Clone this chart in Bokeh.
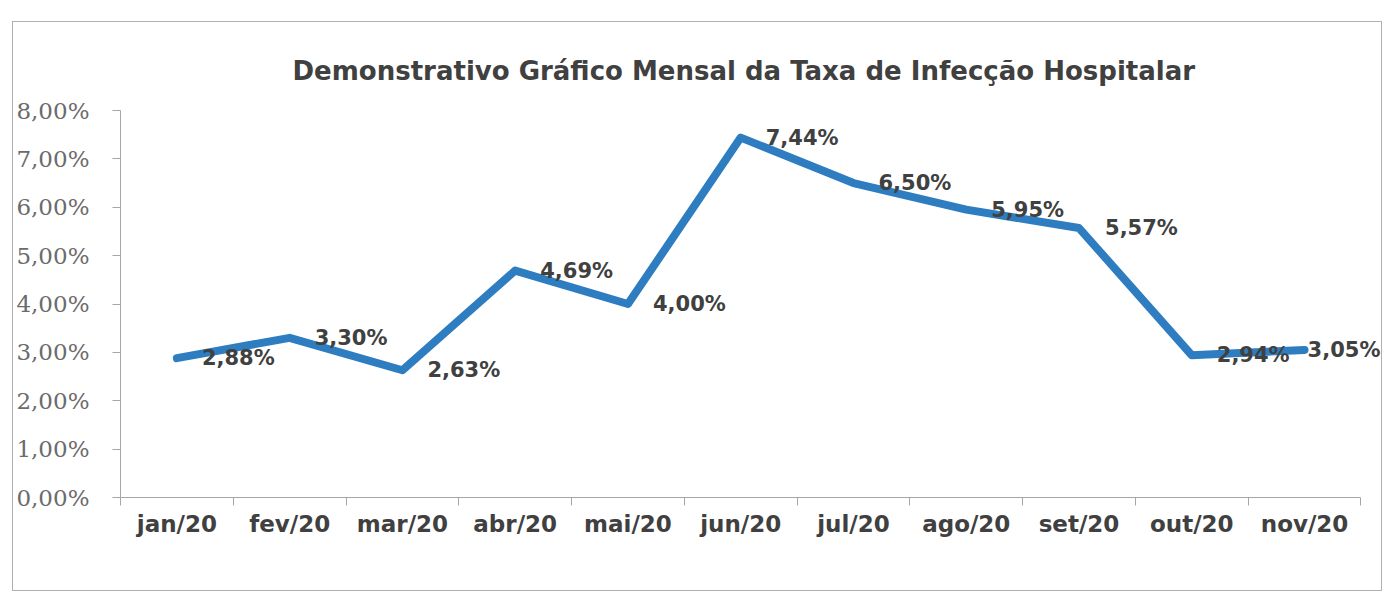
from bokeh.plotting import figure
from bokeh.models import (Range1d, FixedTicker, Title, LabelSet, ColumnDataSource)
from bokeh.core.properties import value
from bokeh.embed import file_html
from bokeh.resources import INLINE

# ---- data ----
months = ["jan/20", "fev/20", "mar/20", "abr/20", "mai/20", "jun/20",
          "jul/20", "ago/20", "set/20", "out/20", "nov/20"]
rates = [2.88, 3.30, 2.63, 4.69, 4.00, 7.44, 6.50, 5.95, 5.57, 2.94, 3.05]
rate_labels = ["2,88%", "3,30%", "2,63%", "4,69%", "4,00%", "7,44%",
               "6,50%", "5,95%", "5,57%", "2,94%", "3,05%"]
y_ticks = [0, 1, 2, 3, 4, 5, 6, 7, 8]
y_tick_labels = ["0,00%", "1,00%", "2,00%", "3,00%", "4,00%", "5,00%",
                 "6,00%", "7,00%", "8,00%"]
title_text = "Demonstrativo Gráfico Mensal da Taxa de Infecção Hospitalar"

# ---- styles ----
label_dx = [25, 25, 25, 25, 25, 25, 25, 25, 26, 25, 3]
LINE_COLOR = "#2F7DC1"
TEXT_DARK = "#404040"
AXIS_GRAY = "#a6a6a6"

# category slots: month i occupies [i, i+1], centred at i + 0.5
n = len(months)
centers = [i + 0.5 for i in range(n)]
boundaries = list(range(n + 1))
right_pad = 0.2  # blank room right of the axis for the last data label

p = figure(x_range=Range1d(0, n + right_pad), y_range=Range1d(0, 8),
           width=1370, height=570,
           output_backend="svg", toolbar_location=None,
           x_axis_location="below", y_axis_location="left",
           min_border_left=105, min_border_right=0,
           min_border_top=88, min_border_bottom=95)
p.margin = (21, 0, 0, 12)
p.styles = {"border": "1px solid #b0b0b0"}
p.outline_line_color = None
p.xgrid.grid_line_color = None
p.ygrid.grid_line_color = None
p.background_fill_color = "white"
p.border_fill_color = "white"

# title
p.title = Title(text=title_text, align="left", offset=172,
                text_font="DejaVu Sans", text_font_size="26px",
                text_font_style="bold", text_color=TEXT_DARK, standoff=49)

# y axis
ya = p.yaxis[0]
ya.ticker = FixedTicker(ticks=y_ticks)
ya.major_label_overrides = {t: l for t, l in zip(y_ticks, y_tick_labels)}
ya.minor_tick_line_color = None
ya.major_tick_in = 0
ya.major_tick_out = 8
ya.axis_line_color = AXIS_GRAY
ya.major_tick_line_color = AXIS_GRAY
ya.major_label_text_font = "DejaVu Serif"
ya.major_label_text_font_size = "23px"
ya.major_label_text_color = "#6b6b6b"
ya.major_label_standoff = 23

# x axis: labels at category centres, (minor) ticks between categories
xa = p.xaxis[0]
xa.bounds = (0, n)
xa.ticker = FixedTicker(ticks=centers, minor_ticks=boundaries)
xa.major_label_overrides = {c: m for c, m in zip(centers, months)}
xa.axis_line_color = AXIS_GRAY
xa.major_tick_line_color = None
xa.major_tick_in = 0
xa.major_tick_out = 0
xa.minor_tick_line_color = AXIS_GRAY
xa.minor_tick_in = 0
xa.minor_tick_out = 8
xa.major_label_text_font = "DejaVu Sans"
xa.major_label_text_font_size = "23px"
xa.major_label_text_font_style = "bold"
xa.major_label_text_color = TEXT_DARK
xa.major_label_standoff = 5

# line
p.line(x=centers, y=rates, line_color=LINE_COLOR, line_width=8,
       line_join="round", line_cap="round")

# data labels
src = ColumnDataSource(dict(x=centers, y=rates, text=rate_labels, dx=label_dx))
labels = LabelSet(x="x", y="y", text="text", x_offset="dx", source=src,
                  text_align="left", text_baseline="middle",
                  text_font=value("DejaVu Sans"), text_font_style="bold",
                  text_font_size="21px", text_color=TEXT_DARK)
p.add_layout(labels)

open("out.html", "w").write(file_html(p, INLINE))
